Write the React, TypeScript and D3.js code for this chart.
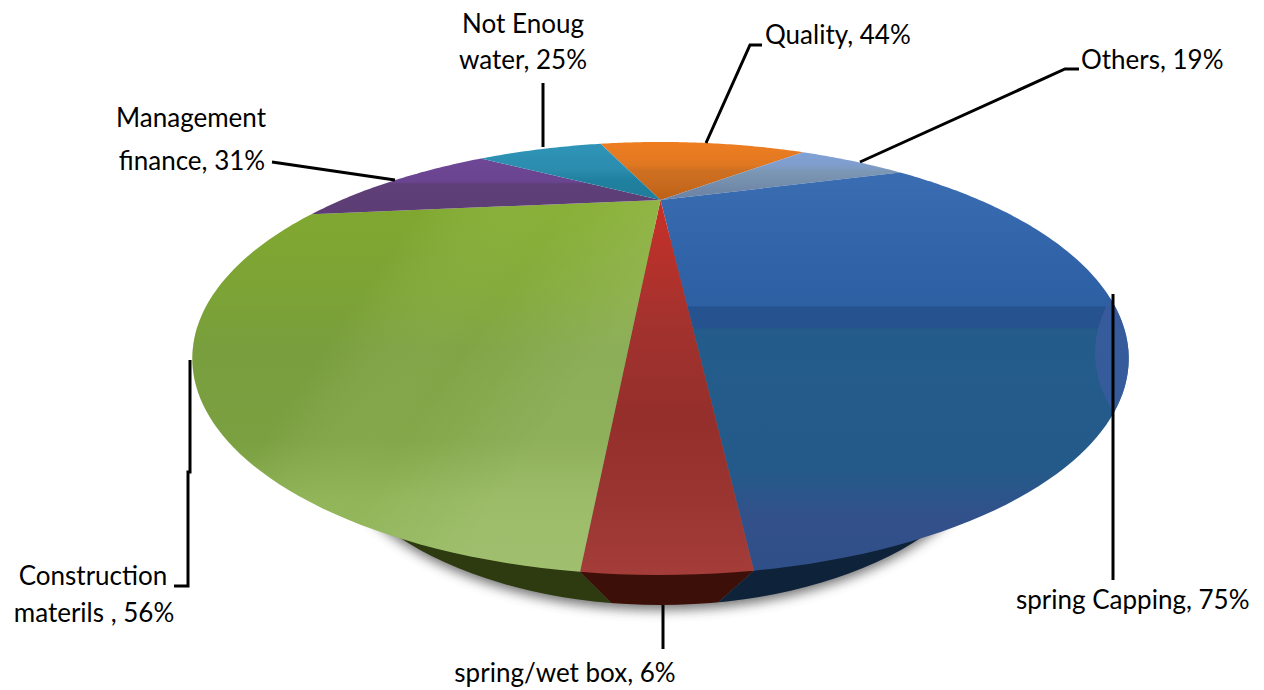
import React from "react";
import * as d3 from "d3";

// Share of respondents per problem category, clockwise from the far edge of the disc.
const categories = ["Quality", "Others", "spring Capping", "spring/wet box", "Construction materils", "Management finance", "Not Enoug water"];
const shares = [44, 19, 75, 6, 56, 31, 25];

const WIDTH = 1264;
const HEIGHT = 690;
const FONT = "Lato, Carlito, sans-serif";

// Perspective projection of the unit disc onto the page.
const CX = 660.5;
const APEX_Y = 200;
const SCALE_X = 319;
const TILT = -0.732;
const DEPTH = -45.9;
const START = (-18.6 * Math.PI) / 180;

function project(theta: number): [number, number] {
  const x = Math.sin(theta);
  const y = -Math.cos(theta);
  const w = 1 + TILT * y;
  return [CX + (SCALE_X * x) / w, (APEX_Y + DEPTH * y) / w];
}

const pieLayout = d3
  .pie<number>()
  .sort(null)
  .startAngle(START)
  .endAngle(START + 2 * Math.PI);
const arcs = pieLayout(shares);
const line = d3.line();

function wedge(a0: number, a1: number): string {
  const steps = Math.max(4, Math.ceil((a1 - a0) * 60));
  const rim = d3.range(steps + 1).map((i) => project(a0 + ((a1 - a0) * i) / steps));
  return line([[CX, APEX_Y], ...rim])! + "Z";
}

// Vertical shading of each slice: [y, colour].
const shading: [number, string][][] = [
  [[143, "#ee7d20"], [165, "#e07822"], [170, "#cf7022"], [185, "#c86a1e"], [200, "#bd5f14"]],
  [[150, "#82a3da"], [165, "#7f9dcc"], [172, "#7b97b4"], [190, "#7088a8"], [205, "#6a80a4"]],
  [[160, "#3b6eb3"], [250, "#3264aa"], [306, "#2d5fa3"], [307, "#26528f"], [328, "#26528f"], [329, "#235c8a"], [470, "#245a8a"], [520, "#33508a"], [575, "#2f4f88"]],
  [[200, "#c83028"], [320, "#a4322e"], [420, "#942f2b"], [500, "#9a3531"], [572, "#a43d39"]],
  [[214, "#86ae33"], [290, "#82a938"], [350, "#7ea342"], [440, "#80a545"], [500, "#8fb355"], [575, "#93b75b"]],
  [[158, "#6e4796"], [182, "#6a4490"], [184, "#5e3f78"], [214, "#5d3d74"]],
  [[143, "#2f95b8"], [170, "#2b8cae"], [180, "#20809f"], [205, "#1d7c98"]],
];

// Thin rim colours for the three slices that face the viewer.
const SIDE_GREEN = "#2e3a10";
const SIDE_RED = "#3c0f08";
const SIDE_BLUE = "#0e2339";

type Label = { lines: [string, number, number][]; anchor: "middle" | "start" };
const labels: Label[] = [
  { anchor: "start", lines: [["Quality, 44%", 765, 44]] },
  { anchor: "start", lines: [["Others, 19%", 1081, 69]] },
  { anchor: "start", lines: [["spring Capping, 75%", 1016, 609]] },
  { anchor: "middle", lines: [["spring/wet box, 6%", 565, 682]] },
  { anchor: "middle", lines: [["Construction", 93, 585], ["materils , 56%", 94, 622]] },
  { anchor: "middle", lines: [["Management", 191, 127], ["finance, 31%", 192, 170]] },
  { anchor: "middle", lines: [["Not Enoug", 523, 33], ["water, 25%", 523, 69]] },
];

const leaders: [number, number][][] = [
  [[706, 143], [750, 45], [762, 45]],
  [[860, 162], [1065, 69], [1079, 69]],
  [[1113, 294], [1113, 580]],
  [[663, 605], [663, 649]],
  [[190, 360], [190, 472], [188, 472], [188, 586], [174, 586]],
  [[272, 162], [395, 180]],
  [[543, 83], [543, 147]],
];

export default function App() {
  const red = arcs[3];
  const pL = project(red.endAngle);
  const pR = project(red.startAngle);
  const base = (p: [number, number]): [number, number] => [CX + (p[0] - CX) * 0.61, 603];
  const qL = base(pL);
  const qR = base(pR);
  const sideRegions: [string, [number, number][]][] = [
    [SIDE_GREEN, [[100, 420], [pL[0], 420], pL, qL, [qL[0], 650], [100, 650]]],
    [SIDE_RED, [pL, pR, qR, [qR[0], 650], [qL[0], 650], qL]],
    [SIDE_BLUE, [[pR[0], 420], [1200, 420], [1200, 650], [qR[0], 650], qR, pR]],
  ];
  const capping = arcs[2];
  const construction = arcs[4];

  return (
    <svg
      width={WIDTH}
      height={HEIGHT}
      viewBox={`0 0 ${WIDTH} ${HEIGHT}`}
      style={{ position: "absolute", left: 0, top: 0, background: "#fff" }}
    >
      <defs>
        {shading.map((stops, i) => {
          const y0 = stops[0][0];
          const y1 = stops[stops.length - 1][0];
          return (
            <linearGradient key={i} id={`slice-${i}`} gradientUnits="userSpaceOnUse" x1={0} x2={0} y1={y0} y2={y1}>
              {stops.map(([y, c], j) => (
                <stop key={j} offset={(y - y0) / (y1 - y0)} stopColor={c} />
              ))}
            </linearGradient>
          );
        })}
        <linearGradient id="green-sheen" gradientUnits="userSpaceOnUse" x1={330} y1={340} x2={520} y2={470}>
          <stop offset={0} stopColor="#4f7a20" stopOpacity={0.12} />
          <stop offset={0.5} stopColor="#ffffff" stopOpacity={0.02} />
          <stop offset={1} stopColor="#ffffff" stopOpacity={0.12} />
        </linearGradient>
        <filter id="soft" x="-20%" y="-20%" width="140%" height="140%">
          <feGaussianBlur stdDeviation={6} />
        </filter>
        <clipPath id="base-clip">
          <ellipse cx={CX} cy={417} rx={340} ry={188} />
        </clipPath>
        <clipPath id="capping-clip">
          <path d={wedge(capping.startAngle, capping.endAngle)} />
        </clipPath>
      </defs>

      {/* Soft shadow under the disc */}
      <ellipse cx={CX} cy={422} rx={338} ry={188} fill="#444" opacity={0.75} filter="url(#soft)" />

      {/* Underside of the disc */}
      <g clipPath="url(#base-clip)">
        {sideRegions.map(([fill, pts], i) => (
          <path key={i} d={line(pts)! + "Z"} fill={fill} />
        ))}
      </g>

      {/* Slices */}
      {arcs.map((a, i) => (
        <path
          key={categories[i]}
          d={wedge(a.startAngle, a.endAngle)}
          fill={`url(#slice-${i})`}
        />
      ))}
      <path d={wedge(construction.startAngle, construction.endAngle)} fill="url(#green-sheen)" />

      {/* Glint along the right edge */}
      <path
        d="M1113 294 Q1077 353 1113 412 L1140 412 L1140 294 Z"
        fill="#3a5c9e"
        opacity={0.85}
        clipPath="url(#capping-clip)"
      />

      {/* Leader lines */}
      {leaders.map((pts, i) => (
        <path key={i} d={line(pts)!} fill="none" stroke="#000" strokeWidth={3} />
      ))}

      {/* Labels */}
      <g fontFamily={FONT} fontSize={26} fill="#000">
        {labels.flatMap((l, i) =>
          l.lines.map(([t, x, y], j) => (
            <text key={`${i}-${j}`} x={x} y={y} textAnchor={l.anchor}>
              {t}
            </text>
          ))
        )}
      </g>
    </svg>
  );
}
